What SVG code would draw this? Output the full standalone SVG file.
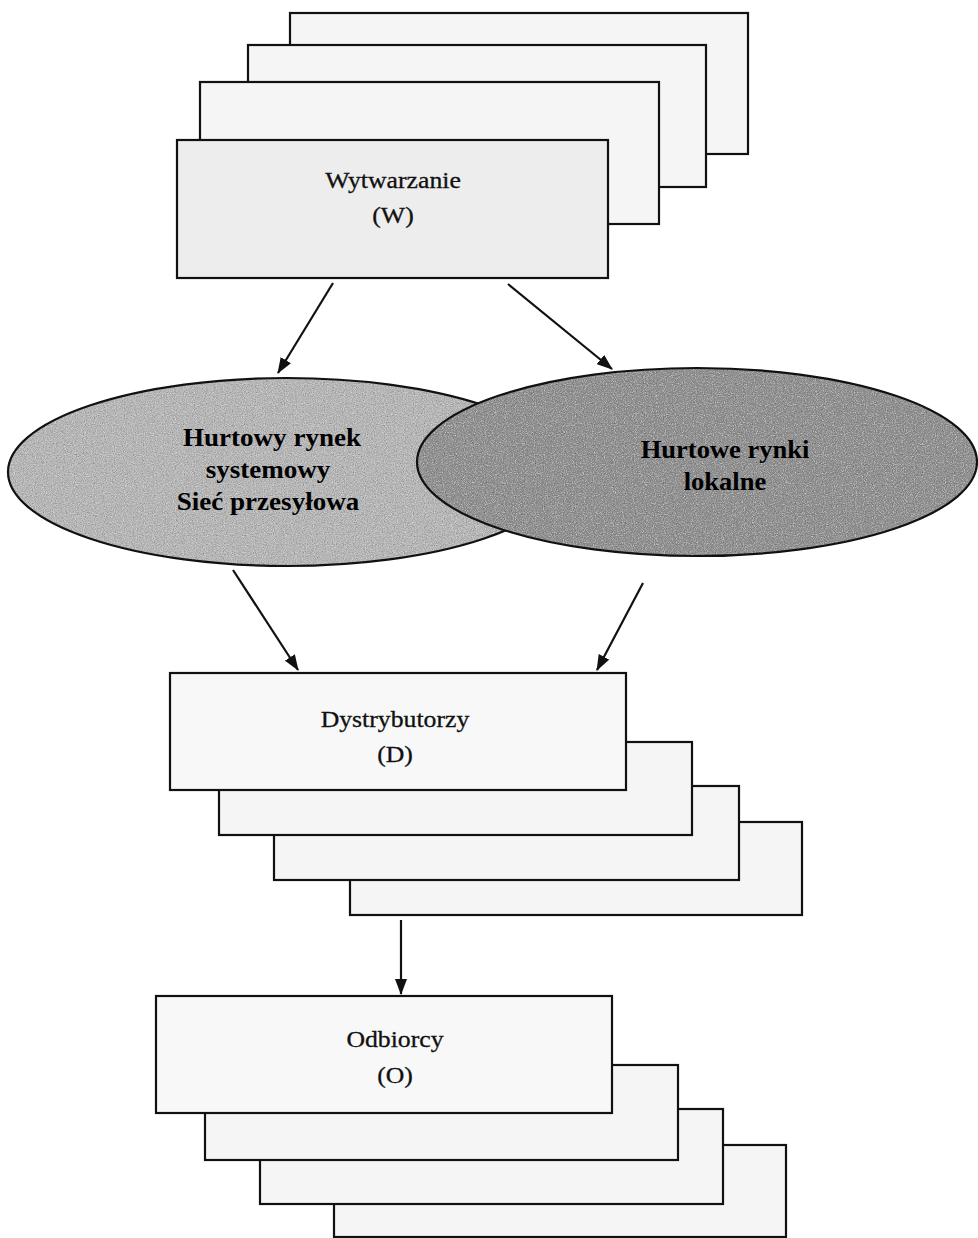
<svg xmlns="http://www.w3.org/2000/svg" width="978" height="1238" viewBox="0 0 978 1238">
  <style>
    .card { fill: #f5f5f5; stroke: #111; stroke-width: 2.2; }
    .edge { fill: none; stroke: #111; stroke-width: 2.2; }
    .lbl { font-family: "Liberation Serif", "Times New Roman", serif; font-size: 23px; fill: #111; stroke: #111; stroke-width: 0.3; text-anchor: middle; }
    .mkt { font-family: "Liberation Serif", "Times New Roman", serif; font-size: 26px; font-weight: bold; fill: #000; text-anchor: middle; }
    .link { stroke: #111; stroke-width: 2.2; fill: none; marker-end: url(#head); }
  </style>
  <defs>
    <marker id="head" viewBox="0 0 16 12" refX="15" refY="6" markerWidth="16" markerHeight="12" markerUnits="userSpaceOnUse" orient="auto">
      <path d="M0,0 L16,6 L0,12 z" fill="#111"/>
    </marker>
    <filter id="grain" x="0" y="0" width="100%" height="100%">
      <feTurbulence type="fractalNoise" baseFrequency="0.9" numOctaves="2" seed="7" result="noise"/>
      <feColorMatrix in="noise" type="matrix" values="0.33 0.33 0.33 0 0  0.33 0.33 0.33 0 0  0.33 0.33 0.33 0 0  0 0 0 0 1" result="gray"/>
      <feBlend in="SourceGraphic" in2="gray" mode="overlay" result="mix"/>
      <feComposite in="mix" in2="SourceGraphic" operator="in"/>
    </filter>
  </defs>

  <rect width="978" height="1238" fill="#ffffff"/>

  <!-- producers: stacked cards, back to front -->
  <g id="wytwarzanie">
    <rect class="card" x="290" y="13" width="458" height="141"/>
    <rect class="card" x="248" y="45" width="458" height="142"/>
    <rect class="card" x="200" y="82" width="459" height="142"/>
    <rect class="card" x="177" y="140" width="431" height="138" style="fill:#ededed"/>
    <text class="lbl" transform="translate(393,188) scale(1.12,1)">Wytwarzanie</text>
    <text class="lbl" transform="translate(393,223) scale(1.12,1)">(W)</text>
  </g>

  <!-- wholesale system market -->
  <g id="rynek-systemowy">
    <ellipse cx="287" cy="472" rx="279" ry="94" fill="#b6b6b6" filter="url(#grain)"/>
    <ellipse class="edge" cx="287" cy="472" rx="279" ry="94"/>
    <text class="mkt" transform="translate(272,446) scale(1.04,1)">Hurtowy rynek</text>
    <text class="mkt" transform="translate(268,478) scale(1.04,1)">systemowy</text>
    <text class="mkt" transform="translate(268,510) scale(1.04,1)">Sieć przesyłowa</text>
  </g>

  <!-- local wholesale markets -->
  <g id="rynki-lokalne">
    <ellipse cx="697" cy="462" rx="280" ry="94" fill="#909090" filter="url(#grain)"/>
    <ellipse class="edge" cx="697" cy="462" rx="280" ry="94"/>
    <text class="mkt" transform="translate(725,458) scale(1.02,1)">Hurtowe rynki</text>
    <text class="mkt" transform="translate(725,490) scale(1.02,1)">lokalne</text>
  </g>

  <!-- distributors -->
  <g id="dystrybutorzy">
    <rect class="card" x="350" y="822" width="452" height="93"/>
    <rect class="card" x="274" y="786" width="465" height="94"/>
    <rect class="card" x="219" y="742" width="473" height="93"/>
    <rect class="card" x="170" y="673" width="456" height="117" style="fill:#f8f8f8"/>
    <text class="lbl" transform="translate(395,727) scale(1.12,1)">Dystrybutorzy</text>
    <text class="lbl" transform="translate(395,762) scale(1.12,1)">(D)</text>
  </g>

  <!-- end customers -->
  <g id="odbiorcy">
    <rect class="card" x="334" y="1145" width="452" height="92"/>
    <rect class="card" x="260" y="1109" width="463" height="95"/>
    <rect class="card" x="205" y="1065" width="473" height="95"/>
    <rect class="card" x="156" y="996" width="456" height="117" style="fill:#f8f8f8"/>
    <text class="lbl" transform="translate(395,1047) scale(1.12,1)">Odbiorcy</text>
    <text class="lbl" transform="translate(395,1083) scale(1.12,1)">(O)</text>
  </g>

  <g id="connectors">
    <line class="link" x1="333" y1="283" x2="278" y2="373"/>
    <line class="link" x1="508" y1="284" x2="612" y2="369"/>
    <line class="link" x1="233" y1="570" x2="298" y2="670"/>
    <line class="link" x1="643" y1="583" x2="597" y2="670"/>
    <line class="link" x1="401" y1="920" x2="401" y2="994"/>
  </g>
</svg>
